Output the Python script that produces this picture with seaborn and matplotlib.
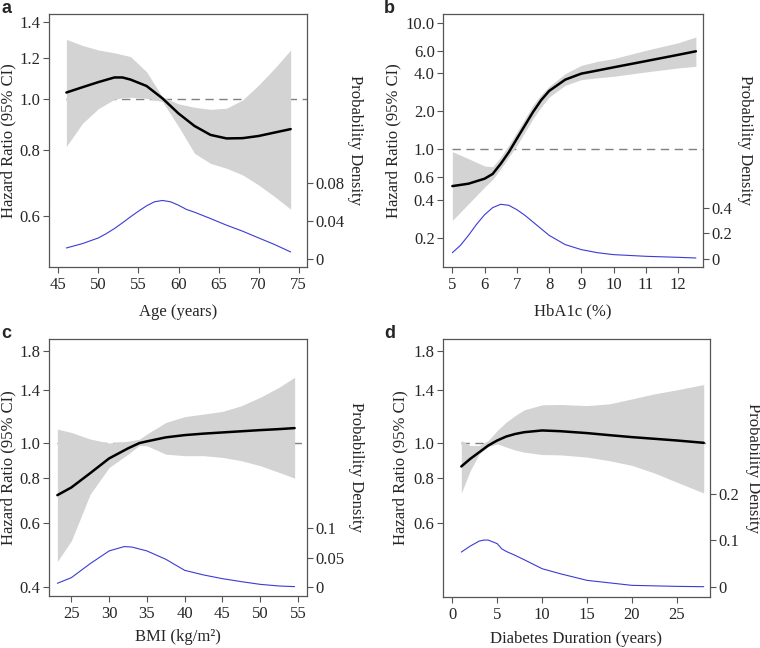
import numpy as np
import pandas as pd
import matplotlib
matplotlib.use("Agg")
import matplotlib.pyplot as plt
import seaborn as sns

# ---------------- data ----------------
# Panel a: Age
age_x = [46, 48, 50, 52, 53, 54, 56, 58, 60, 62, 64, 66, 68, 70, 72, 74]
age_hr = [1.03, 1.054, 1.078, 1.10, 1.10, 1.09, 1.06, 1.004, 0.94, 0.89, 0.856, 0.843, 0.844, 0.852, 0.865, 0.878]
age_hi = [1.299, 1.265, 1.24, 1.225, 1.215, 1.205, 1.128, 1.01, 0.98, 0.966, 0.957, 0.962, 0.997, 1.064, 1.145, 1.24]
age_lo = [0.814, 0.90, 0.96, 1.0, 1.007, 1.009, 1.004, 0.99, 0.888, 0.79, 0.756, 0.74, 0.719, 0.688, 0.654, 0.619]
age_dx = [46, 48, 50, 51, 52, 53, 54, 55, 56, 57, 58, 59, 60, 61, 62, 64, 66, 68, 70, 72, 74]
age_dens = [0.0116, 0.0162, 0.0222, 0.0268, 0.0321, 0.0381, 0.0444, 0.0504, 0.0560, 0.0603, 0.0617,
            0.0603, 0.0567, 0.0522, 0.0493, 0.0426, 0.0356, 0.0293, 0.0222, 0.0152, 0.0074]

# Panel b: HbA1c
hba_x = [5, 5.5, 6, 6.25, 6.5, 6.75, 7, 7.25, 7.5, 7.75, 8, 8.5, 9, 9.5, 10, 11, 12, 12.55]
hba_hr = [0.513, 0.536, 0.587, 0.64, 0.77, 0.95, 1.214, 1.547, 1.97, 2.44, 2.89, 3.55, 3.96, 4.19, 4.44, 4.97, 5.57, 5.94]
hba_hi = [0.96, 0.844, 0.739, 0.73, 0.87, 1.08, 1.37, 1.75, 2.23, 2.7, 3.14, 3.96, 4.6, 4.95, 5.2, 6.05, 6.93, 7.7]
hba_lo = [0.275, 0.372, 0.504, 0.58, 0.704, 0.87, 1.075, 1.37, 1.746, 2.15, 2.59, 3.2, 3.55, 3.67, 3.77, 4.08, 4.39, 4.52]
hba_dx = [5, 5.25, 5.5, 5.75, 6, 6.25, 6.5, 6.75, 7, 7.25, 7.5, 7.75, 8, 8.5, 9, 9.5, 10, 11, 12, 12.55]
hba_dens = [0.049, 0.106, 0.184, 0.27, 0.345, 0.40, 0.426, 0.418, 0.384, 0.34, 0.288, 0.236, 0.184,
            0.112, 0.073, 0.049, 0.034, 0.021, 0.013, 0.008]

# Panel c: BMI
bmi_x = [23.15, 25, 27.5, 30, 32.5, 34, 35, 37.5, 40, 42.5, 45, 47.5, 50, 52.5, 54.56]
bmi_hr = [0.718, 0.754, 0.826, 0.907, 0.967, 1.0, 1.011, 1.037, 1.052, 1.062, 1.07, 1.078, 1.086, 1.093, 1.10]
bmi_hi = [1.093, 1.07, 1.026, 1.0, 1.012, 1.025, 1.059, 1.14, 1.183, 1.203, 1.223, 1.268, 1.338, 1.426, 1.52]
bmi_lo = [0.471, 0.537, 0.723, 0.856, 0.932, 0.985, 0.983, 0.932, 0.923, 0.923, 0.913, 0.894, 0.866, 0.83, 0.80]
bmi_dx = [23.15, 25, 27.5, 30, 32, 33, 35, 37.5, 40, 42.5, 45, 47.5, 50, 52.5, 54.56]
bmi_dens = [0.0063, 0.0159, 0.0398, 0.0614, 0.0688, 0.068, 0.0614, 0.0472, 0.0284, 0.0205, 0.0142,
            0.0091, 0.0045, 0.0017, 0.0006]

# Panel d: Diabetes duration
dur_x = [1, 2, 3, 4, 5, 6, 7, 8, 10, 12, 15, 17.5, 20, 22.5, 25, 28]
dur_hr = [0.86, 0.903, 0.942, 0.983, 1.015, 1.041, 1.058, 1.07, 1.082, 1.077, 1.064, 1.05, 1.037, 1.026, 1.015, 1.0]
dur_hi = [1.015, 0.983, 0.983, 1.015, 1.082, 1.141, 1.19, 1.234, 1.274, 1.277, 1.268, 1.282, 1.323, 1.366, 1.402, 1.45]
dur_lo = [0.726, 0.838, 0.932, 0.975, 0.994, 0.973, 0.955, 0.942, 0.928, 0.926, 0.913, 0.892, 0.866, 0.825, 0.778, 0.726]
dur_dx = [1, 2, 3, 3.5, 4, 5, 5.5, 6, 7, 8, 10, 12, 15, 20, 25, 28]
dur_dens = [0.075, 0.0879, 0.0986, 0.1007, 0.1007, 0.093, 0.082, 0.0764, 0.0679, 0.0586, 0.0393,
            0.0286, 0.0143, 0.0036, 0.0014, 0.0007]

# tick labels
age_xticks = [45, 50, 55, 60, 65, 70, 75]
age_yticks = [0.6, 0.8, 1.0, 1.2, 1.4]
age_dticks = [0, 0.04, 0.08]
age_dlabels = ["0", "0.04", "0.08"]
hba_xticks = [5, 6, 7, 8, 9, 10, 11, 12]
hba_yticks = [0.2, 0.4, 0.6, 1.0, 2.0, 4.0, 6.0, 10.0]
hba_dticks = [0, 0.2, 0.4]
hba_dlabels = ["0", "0.2", "0.4"]
bmi_xticks = [25, 30, 35, 40, 45, 50, 55]
bmi_yticks = [0.4, 0.6, 0.8, 1.0, 1.4, 1.8]
bmi_dticks = [0, 0.05, 0.1]
bmi_dlabels = ["0", "0.05", "0.1"]
dur_xticks = [0, 5, 10, 15, 20, 25]
dur_yticks = [0.6, 0.8, 1.0, 1.4, 1.8]
dur_dticks = [0, 0.1, 0.2]
dur_dlabels = ["0", "0.1", "0.2"]

labels = ["a", "b", "c", "d"]
xlabels = ["Age (years)", "HbA1c (%)", "BMI (kg/m²)", "Diabetes Duration (years)"]

# ---------------- style ----------------
sns.set_style("ticks")
plt.rcParams["font.family"] = ["Liberation Serif", "DejaVu Serif"]
FS = 12
plt.rcParams["font.size"] = FS

W, H = 760, 648
fig = plt.figure(figsize=(W / 100, H / 100), dpi=100)

# layout in pixels: left, right, top, bottom
boxes = [(49, 307, 14, 267), (443, 703, 13.5, 267), (49, 307, 339, 596), (443, 710, 339, 597)]
letter_pos = [(1, 0), (384, 0), (1, 325), (384, 325)]
xlims = [(43.83, 76.04), (4.71, 12.77), (22.04, 56.2), (-1.04, 28.7)]
ylims = [(0.481, 1.451), (0.118, 11.8), (0.378, 1.939), (0.374, 1.939)]
dlims = [(-0.00846, 0.2583), (-0.0623, 1.9117), (-0.01534, 0.4222), (-0.0214, 0.532)]
ylab_x = [-0.159, -0.19, -0.159, -0.158]
rlab_x = [1.186, 1.16, 1.19, 1.16]
xlab_y = [-0.177, -0.176, -0.16, -0.163]

panels = [
    (age_x, age_hr, age_lo, age_hi, age_dx, age_dens, age_xticks, age_yticks, age_dticks, age_dlabels),
    (hba_x, hba_hr, hba_lo, hba_hi, hba_dx, hba_dens, hba_xticks, hba_yticks, hba_dticks, hba_dlabels),
    (bmi_x, bmi_hr, bmi_lo, bmi_hi, bmi_dx, bmi_dens, bmi_xticks, bmi_yticks, bmi_dticks, bmi_dlabels),
    (dur_x, dur_hr, dur_lo, dur_hi, dur_dx, dur_dens, dur_xticks, dur_yticks, dur_dticks, dur_dlabels),
]

spine_col = "#555555"
for i, (px, hr, lo, hi, dx, dens, xt, yt, dt, dl) in enumerate(panels):
    l, r, t, b = boxes[i]
    ax = fig.add_axes([l / W, 1 - b / H, (r - l) / W, (b - t) / H])
    ax.set_yscale("log")
    ax.set_xlim(*xlims[i])
    ax.set_ylim(*ylims[i])

    # reference line at HR = 1
    ax.plot([min(px), xlims[i][1]], [1, 1], color="#808080", lw=1.0,
            linestyle=(0, (6, 4)), zorder=1)
    ax.fill_between(px, lo, hi, color="#d3d3d3", lw=0, zorder=2)
    df = pd.DataFrame({"x": px, "hr": hr})
    sns.lineplot(data=df, x="x", y="hr", ax=ax, color="black", lw=1.8,
                 sort=False, estimator=None, zorder=3)

    ax.set_xticks(xt)
    ax.set_xticklabels([str(v) for v in xt])
    ax.set_yticks(yt)
    ax.set_yticklabels([f"{v:.1f}" for v in yt])
    ax.yaxis.set_minor_locator(matplotlib.ticker.NullLocator())
    ax.tick_params(axis="both", which="both", direction="out", length=4, width=0.8,
                   color=spine_col, labelsize=FS, pad=2)
    ax.tick_params(axis="x", pad=3)
    for s in ax.spines.values():
        s.set_color(spine_col)
        s.set_linewidth(0.9)
        s.set_visible(True)
    ax.set_xlabel(xlabels[i], fontsize=FS, va="center")
    ax.xaxis.set_label_coords(0.5, xlab_y[i])
    ax.set_ylabel("Hazard Ratio (95% CI)", fontsize=FS, va="center")
    ax.yaxis.set_label_coords(ylab_x[i], 0.5)

    ax2 = ax.twinx()
    ax2.set_ylim(*dlims[i])
    ddf = pd.DataFrame({"x": dx, "d": dens})
    sns.lineplot(data=ddf, x="x", y="d", ax=ax2, color="#3b3bd6", lw=0.8,
                 sort=False, estimator=None)
    ax2.set_yticks(dt)
    ax2.set_yticklabels(dl)
    ax2.tick_params(axis="y", direction="out", length=4, width=0.8, color=spine_col,
                    labelsize=FS, pad=2)
    for s in ax2.spines.values():
        s.set_visible(False)
    ax2.set_xlabel("")
    ax2.set_ylabel("Probability Density", fontsize=FS, rotation=270, va="center")
    ax2.yaxis.set_label_coords(rlab_x[i], 0.5)

    lx, ly = letter_pos[i]
    fig.text(lx / W, 1 - ly / H, labels[i], fontsize=13, fontweight="bold",
             family=["Liberation Sans", "DejaVu Sans"], va="top", ha="left")

fig.savefig("out.png", dpi=100)
